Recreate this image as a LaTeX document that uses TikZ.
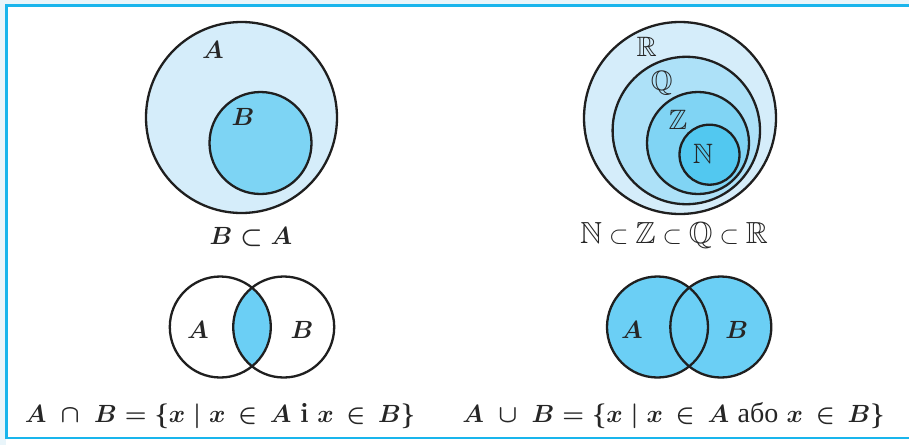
\documentclass[tikz,border=0pt]{standalone}
\usepackage{amsmath,amssymb}
\usepackage{fontspec}
\newfontfamily\cyrfont{Liberation Serif}
\definecolor{frameblue}{HTML}{19B5EC}
\definecolor{bandblue}{HTML}{E9F5FA}
\definecolor{Rfill}{HTML}{D5EDFA}
\definecolor{Qfill}{HTML}{ADE1F8}
\definecolor{Zfill}{HTML}{80D4F4}
\definecolor{Nfill}{HTML}{52C8F0}
\definecolor{Bfill}{HTML}{7DD4F4}
\definecolor{vennfill}{HTML}{6BCFF5}
\begin{document}
\begin{tikzpicture}[x=1pt,y=-1pt,
  ring/.style={draw=black!88, line width=2.3pt},
  lbl/.style={font=\fontsize{25}{28}\selectfont\boldmath, inner sep=0pt, text=black!85},
  bblbl/.style={font=\fontsize{28}{30}\selectfont, inner sep=0pt, text=black!85},
  captxt/.style={font=\fontsize{28}{30}\selectfont\boldmath, inner sep=0pt, text=black!85}]
\useasboundingbox (0,0) rectangle (909,445);
\fill[white] (0,0) rectangle (909,445);
\fill[bandblue] (0,0) rectangle (909,4.5);
\fill[bandblue] (0,0) rectangle (5.5,445);
\draw[frameblue, line width=2.2pt] (920,5.5) -- (6.5,5.5) -- (6.5,438) -- (920,438);

% top-left: B subset A
\filldraw[ring, fill=Rfill] (241.5,117.5) circle (95.5pt);
\filldraw[ring, fill=Bfill] (260.5,143) circle (51pt);
\node[lbl] (lA1) at (213,50) {$A$};
\node[lbl] (lB1) at (243,117) {$B$};
\node[captxt] (c1) at (251,237) {$B \subset A$};

% top-right: number sets
\filldraw[ring, fill=Rfill] (680,118) circle (96pt);
\filldraw[ring, fill=Qfill] (686.3,130.5) circle (73.7pt);
\filldraw[ring, fill=Zfill] (698,143) circle (51pt);
\filldraw[ring, fill=Nfill] (709.5,154.7) circle (30pt);
\node[bblbl] (lR) at (646.7,47) {$\mathbb{R}$};
\node[bblbl] (lQ) at (661.7,83) {$\mathbb{Q}$};
\node[bblbl] (lZ) at (678,120) {$\mathbb{Z}$};
\node[bblbl] (lN) at (703,154) {$\mathbb{N}$};
\node[bblbl, font=\fontsize{30.5}{32}\selectfont] (c2) at (674,236) {$\mathbb{N} \subset \mathbb{Z} \subset \mathbb{Q} \subset \mathbb{R}$};

% bottom-left: intersection
\begin{scope}
  \clip (220.3,327) circle (50.5pt);
  \fill[vennfill] (283.7,327) circle (50.5pt);
\end{scope}
\draw[ring] (220.3,327) circle (50.5pt);
\draw[ring] (283.7,327) circle (50.5pt);
\node[lbl] (lA3) at (198,330) {$A$};
\node[lbl] (lB3) at (302,330) {$B$};
\node[captxt] (c3) at (220,416) {$A \;\cap\; B = \{x \mid x \,\in\, A \text{ \textbf{i} } x \,\in\, B\}$};

% bottom-right: union
\fill[vennfill] (657.5,327) circle (50.5pt);
\fill[vennfill] (720.8,327) circle (50.5pt);
\draw[ring] (657.5,327) circle (50.5pt);
\draw[ring] (720.8,327) circle (50.5pt);
\node[lbl] (lA4) at (632,330) {$A$};
\node[lbl] (lB4) at (736.7,330) {$B$};
\node[captxt] (c4) at (673.5,416) {$A \;\cup\; B = \{x \mid x \,\in\, A \text{ {\cyrfont або} } x \,\in\, B\}$};
\end{tikzpicture}
\end{document}
